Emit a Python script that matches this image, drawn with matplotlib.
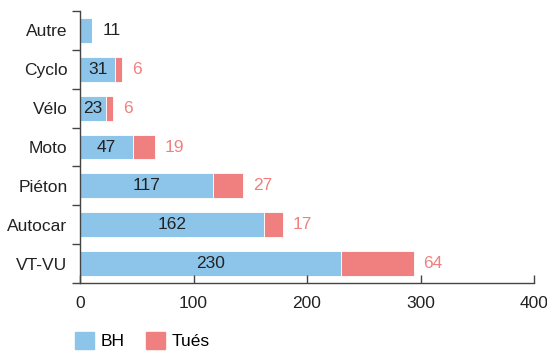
import numpy as np
import matplotlib.pyplot as plt
from matplotlib.patches import Patch

plt.rcParams['font.family'] = ['Liberation Sans', 'DejaVu Sans']

categories = ["Autre", "Cyclo", "Vélo", "Moto", "Piéton", "Autocar", "VT-VU"]
bh = [11, 31, 23, 47, 117, 162, 230]
tues = [0, 6, 6, 19, 27, 17, 64]

blue = "#8cc4ea"
red = "#f08080"

fig = plt.figure(figsize=(5.47, 3.52), dpi=100)
ax = fig.add_axes([80 / 547, (352 - 283) / 352, (534 - 80) / 547, (283 - 11) / 352])

y = np.arange(len(categories))
ax.barh(y, bh, height=0.64, color=blue, edgecolor="white", linewidth=0.6)
ax.barh(y, tues, left=bh, height=0.64, color=red, edgecolor="white", linewidth=0.6)

fs = 12.5
for i in range(len(categories)):
    total = bh[i] + tues[i]
    if tues[i] > 0:
        ax.text(bh[i] / 2, y[i], str(bh[i]), ha="center", va="center",
                fontsize=fs, color="#222222")
        ax.annotate(str(tues[i]), (total, y[i]), xytext=(7, 0), textcoords="offset points",
                    ha="left", va="center", fontsize=fs, color=red)
    else:
        ax.annotate(str(bh[i]), (total, y[i]), xytext=(7, 0), textcoords="offset points",
                    ha="left", va="center", fontsize=fs, color="#222222")

ax.set_xlim(0, 400)
ax.set_ylim(len(categories) - 0.5, -0.5)
ax.set_xticks([0, 100, 200, 300, 400])
ax.set_yticks(y)
ax.set_yticklabels(categories)
ax.set_yticks(np.arange(-0.5, len(categories)), minor=True)
ax.tick_params(axis="y", which="major", length=0, pad=9, labelsize=fs, colors="#222222")
ax.tick_params(axis="y", which="minor", length=6, direction="out", width=1, color="#444444")
ax.tick_params(axis="x", length=6, direction="in", width=1, labelsize=fs, colors="#222222",
               color="#444444", pad=9)
for s in ["top", "right"]:
    ax.spines[s].set_visible(False)
for s in ["left", "bottom"]:
    ax.spines[s].set_color("#444444")
    ax.spines[s].set_linewidth(1)

handles = [Patch(color=blue, label="BH"), Patch(color=red, label="Tués")]
fig.legend(handles=handles, loc="lower left", bbox_to_anchor=(75 / 547, 0.008), ncol=2,
           frameon=False, fontsize=fs, handlelength=1.1, handleheight=1.1,
           columnspacing=1.2, handletextpad=0.4, borderpad=0, borderaxespad=0)

fig.savefig("out.png", dpi=100)
